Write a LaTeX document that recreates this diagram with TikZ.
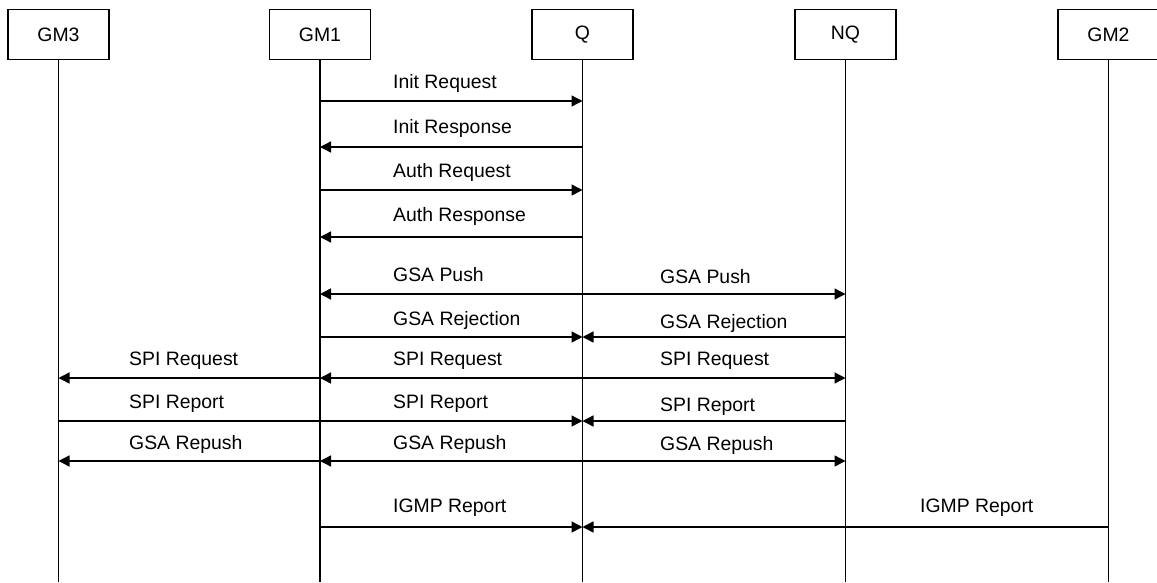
\documentclass[tikz,border=0pt]{standalone}
\usepackage{fontspec}
\setmainfont{Liberation Sans}
\usetikzlibrary{arrows.meta}
\begin{document}
\begin{tikzpicture}[x=1pt,y=-1pt,
  actor/.style={draw, line width=1.1pt, minimum width=101pt, minimum height=50pt, inner sep=0pt, font=\fontsize{19.4}{21}\selectfont},
  life/.style={line width=1.2pt},
  msg/.style={line width=1.4pt, -{Triangle[length=11pt,width=11pt]}},
  plain/.style={line width=1.4pt},
  lbl/.style={anchor=base west, inner sep=0pt, font=\fontsize{19.4}{21}\selectfont}]
\useasboundingbox (0,0) rectangle (1157,582);
\node[actor] (gm3) at (58.5,34.5) {GM3};
\node[actor] (gm1) at (320,34.5) {GM1};
\node[actor] (q) at (582.5,34.5) {Q};
\node[actor] (nq) at (845.5,34.5) {NQ};
\node[actor] (gm2) at (1108.5,34.5) {GM2};
\foreach \a in {gm3,gm1,q,nq,gm2}{
  \coordinate (\a-end) at (\a.south |- 0,582);
  \draw[life] (\a.south) -- (\a-end);
}
\foreach \r/\y in {r1/101,r2/147,r3/190,r4/237,r5/294,r6/337,r7/378,r8/421,r9/461,r10/527}{
  \foreach \a in {gm3,gm1,q,nq,gm2}{\coordinate (\a-\r) at (\a.south |- 0,\y);}
}
% messages
\draw[msg] (gm1-r1) -- (q-r1);
\draw[msg] (q-r2) -- (gm1-r2);
\draw[msg] (gm1-r3) -- (q-r3);
\draw[msg] (q-r4) -- (gm1-r4);
\draw[msg] (q-r5) -- (gm1-r5);
\draw[msg] (q-r5) -- (nq-r5);
\draw[msg] (gm1-r6) -- (q-r6);
\draw[msg] (nq-r6) -- (q-r6);
\draw[msg] (gm1-r7) -- (gm3-r7);
\draw[msg] (q-r7) -- (gm1-r7);
\draw[msg] (q-r7) -- (nq-r7);
\draw[plain] (gm3-r8) -- (gm1-r8);
\draw[msg] (gm1-r8) -- (q-r8);
\draw[msg] (nq-r8) -- (q-r8);
\draw[msg] (gm1-r9) -- (gm3-r9);
\draw[msg] (q-r9) -- (gm1-r9);
\draw[msg] (q-r9) -- (nq-r9);
\draw[msg] (gm1-r10) -- (q-r10);
\draw[msg] (gm2-r10) -- (q-r10);
% labels
\node[lbl] (l1) at (393,88) {Init Request};
\node[lbl] (l2) at (393,133.5) {Init Response};
\node[lbl] (l3) at (393,177.5) {Auth Request};
\node[lbl] (l4) at (393,221.5) {Auth Response};
\node[lbl] (l5a) at (393,281.5) {GSA Push};
\node[lbl] (l5b) at (660,283) {GSA Push};
\node[lbl] (l6a) at (393,325) {GSA Rejection};
\node[lbl] (l6b) at (660,328) {GSA Rejection};
\node[lbl] (l7o) at (129,365) {SPI Request};
\node[lbl] (l7a) at (393,365) {SPI Request};
\node[lbl] (l7b) at (660,365) {SPI Request};
\node[lbl] (l8o) at (129,408) {SPI Report};
\node[lbl] (l8a) at (393,408) {SPI Report};
\node[lbl] (l8b) at (660,411) {SPI Report};
\node[lbl] (l9o) at (129,449) {GSA Repush};
\node[lbl] (l9a) at (393,449) {GSA Repush};
\node[lbl] (l9b) at (660,450) {GSA Repush};
\node[lbl] (l10a) at (393,512) {IGMP Report};
\node[lbl] (l10b) at (920,512) {IGMP Report};
\end{tikzpicture}
\end{document}
